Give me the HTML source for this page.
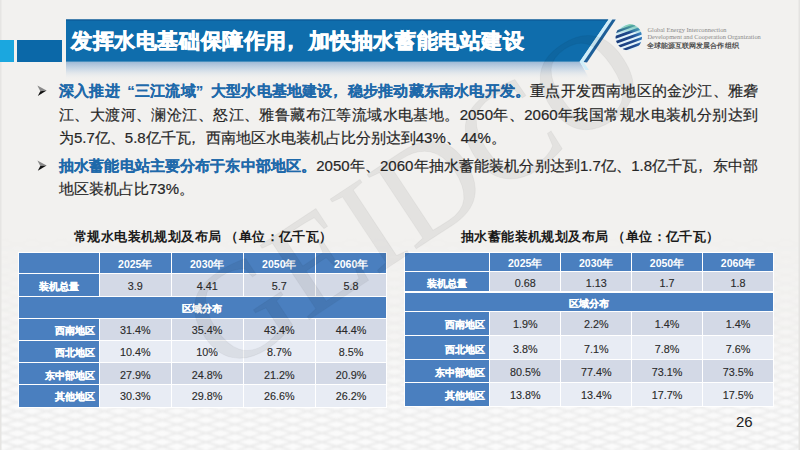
<!DOCTYPE html>
<html><head><meta charset="utf-8">
<style>
*{margin:0;padding:0;box-sizing:border-box}
html,body{width:800px;height:450px;overflow:hidden}
body{position:relative;background:#f2f1ef;font-family:"Liberation Sans",sans-serif;color:#262626}
.abs{position:absolute}
#lb{left:0;top:40.3px;width:14.4px;height:22px;background:#1ba7df}
#db{left:16.9px;top:40.3px;width:44.8px;height:22px;background:#0b68a8}
#title{left:71px;top:27px;font-size:21px;font-weight:bold;color:#fff;-webkit-text-stroke:0.7px #fff;white-space:nowrap;letter-spacing:0.6px}
.line{position:absolute;-webkit-text-stroke:0.2px #2a2a2a;left:59px;width:699px;font-size:15px;height:22px;line-height:22px;white-space:nowrap;text-align:justify;text-align-last:justify}
.cm{position:relative;left:-0.33em}
.pr{display:inline-block;width:1em;text-align:right;text-align-last:right}
.pl{display:inline-block;width:1em;text-align:left;text-align-last:left}
.bl{color:#1e69aa;font-weight:bold;-webkit-text-stroke:0.15px #1e69aa}
.tt{position:absolute;font-size:13px;letter-spacing:0.4px;font-weight:bold;color:#1a1a1a;white-space:nowrap}
.cell{position:absolute;padding-top:1.3px;text-align:center;color:#2a2a2a;font-size:10.8px;white-space:nowrap;overflow:hidden}
.cell.h{background:#4a7fbf;color:#fff;font-weight:bold}
.cell.d,.cell.tot{background:#d3d9e6;-webkit-text-stroke:0.12px #2a2a2a}
.cell.l{background:#e8ecf4;-webkit-text-stroke:0.12px #2a2a2a}
.cell.r{text-align:right;padding-right:4.5px}
.c{font-size:10px;letter-spacing:0;-webkit-text-stroke:0.2px #fff}
.yr{font-size:10.5px}
#pn{left:736px;top:413px;font-size:15px;color:#222}
</style></head><body>
<svg class="abs" style="left:0;top:0" width="800" height="450">
  <defs>
    <linearGradient id="sh" x1="0" y1="0" x2="0" y2="1">
      <stop offset="0" stop-color="#9fbad6" stop-opacity="1"/>
      <stop offset="0.4" stop-color="#c2d3e4" stop-opacity="0.8"/>
      <stop offset="1" stop-color="#f2f1ef" stop-opacity="0"/>
    </linearGradient>
    <linearGradient id="bg" x1="0" y1="0" x2="0" y2="1">
      <stop offset="0" stop-color="#f2f1ef"/>
      <stop offset="0.75" stop-color="#f2f1ef"/>
      <stop offset="1" stop-color="#f6f6f6"/>
    </linearGradient>
    <clipPath id="gc"><circle r="13.2"/></clipPath>
    <pattern id="lat" x="3" y="2" width="29" height="8.8" patternUnits="userSpaceOnUse">
      <rect width="29" height="8.8" fill="#fbfbfb"/>
      <path d="M-2,-0.6 L31,9.4 M-2,9.4 L31,-0.6" stroke="#e5e5e5" stroke-width="1.6"/>
    </pattern>
    <filter id="bl"><feGaussianBlur stdDeviation="0.9"/></filter>
    <linearGradient id="fade" x1="0" y1="0" x2="0" y2="1">
      <stop offset="0" stop-color="#fff" stop-opacity="0"/>
      <stop offset="0.45" stop-color="#fff" stop-opacity="0.35"/>
      <stop offset="1" stop-color="#fff" stop-opacity="1"/>
    </linearGradient>
    <mask id="fm"><rect x="0" y="230" width="800" height="220" fill="url(#fade)"/></mask>
  </defs>
  <rect width="800" height="450" fill="url(#bg)"/>
  <g mask="url(#fm)"><rect x="0" y="230" width="800" height="220" fill="url(#lat)" filter="url(#bl)"/></g>
  <rect x="0" y="0" width="1.5" height="450" fill="#e6e5e3"/>
  <rect x="798.5" y="0" width="1.5" height="450" fill="#e4e3e1"/>
  <!-- shadow below title bar -->
  <polygon points="66,62 580,62 590,80 66,80" fill="url(#sh)"/>
  <!-- title bar -->
  <polygon points="66,19.5 608.5,19.5 580,61.8 66,61.8" fill="#0f6dac"/>
  <rect x="66" y="19.5" width="542" height="1" fill="#0c5590"/>
  <!-- stripes -->
  <polygon points="608.5,19.5 612.3,19.5 583.6,62 589,70 585.5,70 579.5,61.8" fill="#cfeefa"/>
  <polygon points="612.3,19.5 615.8,19.5 587,62.5 583.6,62" fill="#1d5f99"/>
  <!-- logo globe -->
  <defs>
    <linearGradient id="gs" x1="0" y1="0" x2="1" y2="0">
      <stop offset="0" stop-color="#1b3a78"/>
      <stop offset="0.6" stop-color="#1f4a8e"/>
      <stop offset="1" stop-color="#3f8fcf"/>
    </linearGradient>
    <linearGradient id="gg" x1="0" y1="0" x2="0" y2="1">
      <stop offset="0" stop-color="#6cc99a"/>
      <stop offset="1" stop-color="#3fa6b5" stop-opacity="0"/>
    </linearGradient>
  </defs>
  <g transform="translate(628.8,37.2)">
    <g clip-path="url(#gc)">
      <rect x="-15" y="-15" width="30" height="30" fill="#e2f3fb"/>
      <g transform="rotate(-20)" fill="url(#gs)">
        <rect x="-16" y="-10.5" width="32" height="2.2"/>
        <rect x="-16" y="-5.8" width="32" height="2.8"/>
        <rect x="-16" y="-0.9" width="32" height="2.8"/>
        <rect x="-16" y="4" width="32" height="2.7"/>
        <rect x="-16" y="8.9" width="32" height="2.5"/>
      </g>
      <path d="M-13,-4 Q-6,-13 6,-14 L14,-10 L12,-2 Q2,-9 -13,-2 Z" fill="url(#gg)" fill-opacity="0.9"/>
    </g>
  </g>
</svg>
<div class="abs" style="left:647.5px;top:25.5px;font-family:'Liberation Serif',serif;font-size:6.4px;color:#8a8a8a;line-height:7px;white-space:nowrap">Global Energy Interconnection<br>Development and Cooperation Organization</div>
<div class="abs" style="left:647px;top:41.5px;font-size:6.6px;letter-spacing:0.05px;color:#4a4a4a;font-weight:bold;white-space:nowrap">全球能源互联网发展合作组织</div>

<div id="db" class="abs"></div>
<div id="lb" class="abs"></div>
<div id="title" class="abs">发挥水电基础保障作用<span class="cm">，</span>加快抽水蓄能电站建设</div>

<svg class="abs" style="left:0;top:0" width="60" height="200">
<g><path d="M37.4,85.6 L46.6,90.5 L40.3,91.2 Z" fill="#8a8a8a"/><path d="M40.3,91.2 L46.6,90.5 L37.8,95.9 Z" fill="#111"/></g>
<g transform="translate(0,74.9)"><path d="M37.4,85.6 L46.6,90.5 L40.3,91.2 Z" fill="#8a8a8a"/><path d="M40.3,91.2 L46.6,90.5 L37.8,95.9 Z" fill="#111"/></g>
</svg>
<div class="line" style="top:80px"><span class="bl">深入推进<span class="pr">“</span>三江流域<span class="pl">”</span>大型水电基地建设<span class="cm">，</span>稳步推动藏东南水电开发。</span>重点开发西南地区的金沙江、雅砻</div>
<div class="line" style="top:104px">江、大渡河、澜沧江、怒江、雅鲁藏布江等流域水电基地。2050年、2060年我国常规水电装机分别达到</div>
<div class="line" style="top:127px;text-align-last:left">为5.7亿、5.8亿千瓦<span class="cm">，</span>西南地区水电装机占比分别达到43%、44%。</div>

<div class="line" style="top:155px"><span class="bl">抽水蓄能电站主要分布于东中部地区。</span>2050年、2060年抽水蓄能装机分别达到1.7亿、1.8亿千瓦<span class="cm">，</span>东中部</div>
<div class="line" style="top:178px;text-align-last:left">地区装机占比73%。</div>

<div class="tt" style="left:74px;top:228px">常规水电装机规划及布局 （单位：亿千瓦）</div>
<div class="tt" style="left:461px;top:228px">抽水蓄能装机规划及布局 （单位：亿千瓦）</div>

<!-- TABLES -->
<div class="abs" style="left:17.5px;top:252px;width:369.9px;height:156px;background:#fff"></div>
<div class="cell h" style="left:18.5px;top:253px;width:80.5px;height:20.2px;line-height:20.2px"></div>
<div class="cell h" style="left:100px;top:253px;width:70.5px;height:20.2px;line-height:20.2px"><span class="yr">2025年</span></div>
<div class="cell h" style="left:171.5px;top:253px;width:71.3px;height:20.2px;line-height:20.2px"><span class="yr">2030年</span></div>
<div class="cell h" style="left:243.8px;top:253px;width:71.0px;height:20.2px;line-height:20.2px"><span class="yr">2050年</span></div>
<div class="cell h" style="left:315.8px;top:253px;width:70.6px;height:20.2px;line-height:20.2px"><span class="yr">2060年</span></div>
<div class="cell h" style="left:18.5px;top:274.2px;width:80.5px;height:22.0px;line-height:22.0px"><span class="c">装机总量</span></div>
<div class="cell tot" style="left:100px;top:274.2px;width:70.5px;height:22.0px;line-height:22.0px">3.9</div>
<div class="cell tot" style="left:171.5px;top:274.2px;width:71.3px;height:22.0px;line-height:22.0px">4.41</div>
<div class="cell tot" style="left:243.8px;top:274.2px;width:71.0px;height:22.0px;line-height:22.0px">5.7</div>
<div class="cell tot" style="left:315.8px;top:274.2px;width:70.6px;height:22.0px;line-height:22.0px">5.8</div>
<div class="cell h" style="left:18.5px;top:297.2px;width:367.9px;height:20.8px;line-height:20.8px"><span class="c">区域分布</span></div>
<div class="cell h r" style="left:18.5px;top:319px;width:80.5px;height:21.2px;line-height:21.2px"><span class="c">西南地区</span></div>
<div class="cell d" style="left:100px;top:319px;width:70.5px;height:21.2px;line-height:21.2px">31.4%</div>
<div class="cell d" style="left:171.5px;top:319px;width:71.3px;height:21.2px;line-height:21.2px">35.4%</div>
<div class="cell d" style="left:243.8px;top:319px;width:71.0px;height:21.2px;line-height:21.2px">43.4%</div>
<div class="cell d" style="left:315.8px;top:319px;width:70.6px;height:21.2px;line-height:21.2px">44.4%</div>
<div class="cell h r" style="left:18.5px;top:341.2px;width:80.5px;height:21.1px;line-height:21.1px"><span class="c">西北地区</span></div>
<div class="cell l" style="left:100px;top:341.2px;width:70.5px;height:21.1px;line-height:21.1px">10.4%</div>
<div class="cell l" style="left:171.5px;top:341.2px;width:71.3px;height:21.1px;line-height:21.1px">10%</div>
<div class="cell l" style="left:243.8px;top:341.2px;width:71.0px;height:21.1px;line-height:21.1px">8.7%</div>
<div class="cell l" style="left:315.8px;top:341.2px;width:70.6px;height:21.1px;line-height:21.1px">8.5%</div>
<div class="cell h r" style="left:18.5px;top:363.3px;width:80.5px;height:20.8px;line-height:20.8px"><span class="c">东中部地区</span></div>
<div class="cell d" style="left:100px;top:363.3px;width:70.5px;height:20.8px;line-height:20.8px">27.9%</div>
<div class="cell d" style="left:171.5px;top:363.3px;width:71.3px;height:20.8px;line-height:20.8px">24.8%</div>
<div class="cell d" style="left:243.8px;top:363.3px;width:71.0px;height:20.8px;line-height:20.8px">21.2%</div>
<div class="cell d" style="left:315.8px;top:363.3px;width:70.6px;height:20.8px;line-height:20.8px">20.9%</div>
<div class="cell h r" style="left:18.5px;top:385.1px;width:80.5px;height:21.9px;line-height:21.9px"><span class="c">其他地区</span></div>
<div class="cell l" style="left:100px;top:385.1px;width:70.5px;height:21.9px;line-height:21.9px">30.3%</div>
<div class="cell l" style="left:171.5px;top:385.1px;width:71.3px;height:21.9px;line-height:21.9px">29.8%</div>
<div class="cell l" style="left:243.8px;top:385.1px;width:71.0px;height:21.9px;line-height:21.9px">26.6%</div>
<div class="cell l" style="left:315.8px;top:385.1px;width:70.6px;height:21.9px;line-height:21.9px">26.2%</div>
<div class="abs" style="left:404px;top:251.8px;width:370px;height:155.3px;background:#fff"></div>
<div class="cell h" style="left:405px;top:252.8px;width:84px;height:18.6px;line-height:18.6px"></div>
<div class="cell h" style="left:490px;top:252.8px;width:70.4px;height:18.6px;line-height:18.6px"><span class="yr">2025年</span></div>
<div class="cell h" style="left:561.4px;top:252.8px;width:69.6px;height:18.6px;line-height:18.6px"><span class="yr">2030年</span></div>
<div class="cell h" style="left:632px;top:252.8px;width:70px;height:18.6px;line-height:18.6px"><span class="yr">2050年</span></div>
<div class="cell h" style="left:703px;top:252.8px;width:70px;height:18.6px;line-height:18.6px"><span class="yr">2060年</span></div>
<div class="cell h" style="left:405px;top:272.4px;width:84px;height:19.1px;line-height:19.1px"><span class="c">装机总量</span></div>
<div class="cell tot" style="left:490px;top:272.4px;width:70.4px;height:19.1px;line-height:19.1px">0.68</div>
<div class="cell tot" style="left:561.4px;top:272.4px;width:69.6px;height:19.1px;line-height:19.1px">1.13</div>
<div class="cell tot" style="left:632px;top:272.4px;width:70px;height:19.1px;line-height:19.1px">1.7</div>
<div class="cell tot" style="left:703px;top:272.4px;width:70px;height:19.1px;line-height:19.1px">1.8</div>
<div class="cell h" style="left:405px;top:292.5px;width:368px;height:18.7px;line-height:18.7px"><span class="c">区域分布</span></div>
<div class="cell h r" style="left:405px;top:312.2px;width:84px;height:23.1px;line-height:23.1px"><span class="c">西南地区</span></div>
<div class="cell d" style="left:490px;top:312.2px;width:70.4px;height:23.1px;line-height:23.1px">1.9%</div>
<div class="cell d" style="left:561.4px;top:312.2px;width:69.6px;height:23.1px;line-height:23.1px">2.2%</div>
<div class="cell d" style="left:632px;top:312.2px;width:70px;height:23.1px;line-height:23.1px">1.4%</div>
<div class="cell d" style="left:703px;top:312.2px;width:70px;height:23.1px;line-height:23.1px">1.4%</div>
<div class="cell h r" style="left:405px;top:336.3px;width:84px;height:22.6px;line-height:22.6px"><span class="c">西北地区</span></div>
<div class="cell l" style="left:490px;top:336.3px;width:70.4px;height:22.6px;line-height:22.6px">3.8%</div>
<div class="cell l" style="left:561.4px;top:336.3px;width:69.6px;height:22.6px;line-height:22.6px">7.1%</div>
<div class="cell l" style="left:632px;top:336.3px;width:70px;height:22.6px;line-height:22.6px">7.8%</div>
<div class="cell l" style="left:703px;top:336.3px;width:70px;height:22.6px;line-height:22.6px">7.6%</div>
<div class="cell h r" style="left:405px;top:359.9px;width:84px;height:22.2px;line-height:22.2px"><span class="c">东中部地区</span></div>
<div class="cell d" style="left:490px;top:359.9px;width:70.4px;height:22.2px;line-height:22.2px">80.5%</div>
<div class="cell d" style="left:561.4px;top:359.9px;width:69.6px;height:22.2px;line-height:22.2px">77.4%</div>
<div class="cell d" style="left:632px;top:359.9px;width:70px;height:22.2px;line-height:22.2px">73.1%</div>
<div class="cell d" style="left:703px;top:359.9px;width:70px;height:22.2px;line-height:22.2px">73.5%</div>
<div class="cell h r" style="left:405px;top:383.1px;width:84px;height:23.0px;line-height:23.0px"><span class="c">其他地区</span></div>
<div class="cell l" style="left:490px;top:383.1px;width:70.4px;height:23.0px;line-height:23.0px">13.8%</div>
<div class="cell l" style="left:561.4px;top:383.1px;width:69.6px;height:23.0px;line-height:23.0px">13.4%</div>
<div class="cell l" style="left:632px;top:383.1px;width:70px;height:23.0px;line-height:23.0px">17.7%</div>
<div class="cell l" style="left:703px;top:383.1px;width:70px;height:23.0px;line-height:23.0px">17.5%</div>
<!-- /TABLES -->

<svg class="abs" style="left:0;top:0;pointer-events:none" width="800" height="450">
  <g fill="#000" fill-opacity="0.06" stroke="#000" stroke-opacity="0.04" stroke-width="1" font-family="Liberation Serif" font-size="136" transform="translate(224,376) rotate(-33.5)">
    <text x="0" y="0">GEIDCO</text>
  </g>
</svg>
<div id="pn" class="abs">26</div>
</body></html>
